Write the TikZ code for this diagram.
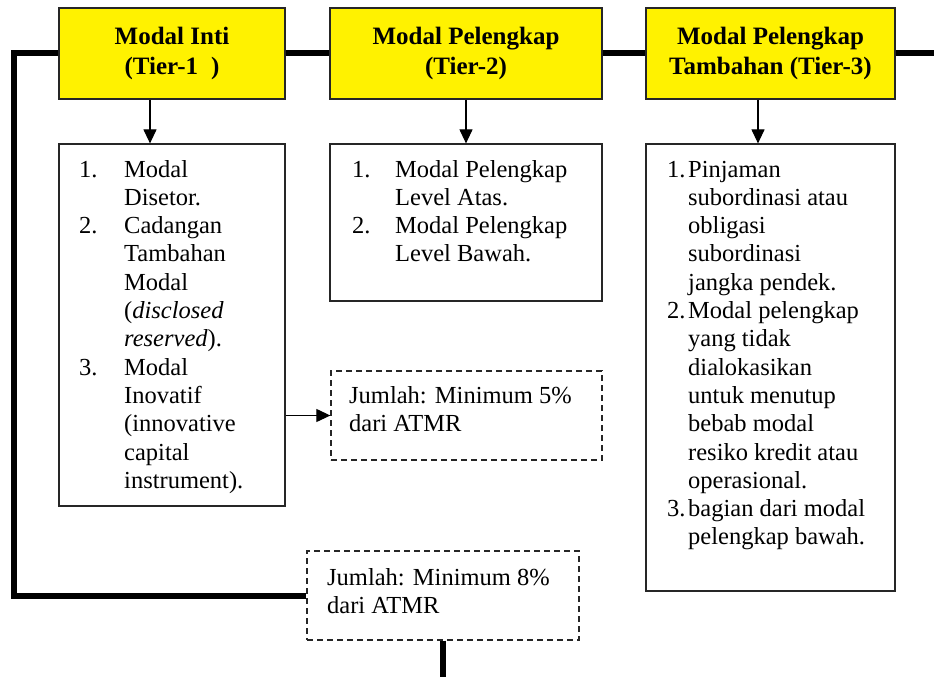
\documentclass[tikz,border=0pt]{standalone}
\usepackage{fontspec}
\setmainfont{Liberation Serif}
\usetikzlibrary{arrows.meta}
\begin{document}
\begin{tikzpicture}[x=1pt,y=-1pt,
  hdr/.style={draw=black!85,line width=1.3pt,fill=yellow,minimum height=91pt,inner sep=0pt,align=center,font=\fontsize{25}{30}\selectfont\bfseries},
  listbox/.style={draw=black!85,line width=1.2pt,inner sep=0pt},
  sumbox/.style={draw=black!85,line width=1.3pt,dash pattern=on 6pt off 4pt,inner sep=0pt},
  body/.style={inner sep=0pt,anchor=base west,font=\fontsize{24.5}{28.3}\selectfont},
  bus/.style={line width=6pt,line join=miter,line cap=butt},
  arr/.style={line width=1.1pt,-{Triangle[length=14pt,width=13pt]}}]
\useasboundingbox (0,0) rectangle (934,677);

% header boxes
\node[hdr,minimum width=226pt] (t1) at (172,53.5) {Modal Inti\\(Tier-1\hspace{13pt})};
\node[hdr,minimum width=272pt] (t2) at (466,53.5) {Modal Pelengkap\\(Tier-2)};
\node[hdr,minimum width=249pt] (t3) at (770.5,53.5) {Modal Pelengkap\\Tambahan (Tier-3)};

% list boxes
\node[listbox,minimum width=226pt,minimum height=362pt] (l1) at (172,325) {};
\node[listbox,minimum width=272pt,minimum height=157pt] (l2) at (466,222.5) {};
\node[listbox,minimum width=249pt,minimum height=447pt] (l3) at (770.5,367.5) {};

% sum boxes
\node[sumbox,minimum width=271pt,minimum height=89pt] (s5) at (466.5,415.5) {};
\node[sumbox,minimum width=272pt,minimum height=89pt] (s8) at (443,595.5) {};

% texts
\node[body] (l1t) at (79,177) {\begin{tabular}[t]{@{}p{45pt}@{}l@{}}
1. & Modal\\
   & Disetor.\\
2. & Cadangan\\
   & Tambahan\\
   & Modal\\
   & (\textit{disclosed}\\
   & \textit{reserved}).\\
3. & Modal\\
   & Inovatif\\
   & (innovative\\
   & capital\\
   & instrument).
\end{tabular}};
\node[body] (l2t) at (352,177) {\begin{tabular}[t]{@{}p{43pt}@{}l@{}}
1. & Modal Pelengkap\\
   & Level Atas.\\
2. & Modal Pelengkap\\
   & Level Bawah.
\end{tabular}};
\node[body] (l3t) at (667,177) {\begin{tabular}[t]{@{}p{21pt}@{}l@{}}
1. & Pinjaman\\
   & subordinasi atau\\
   & obligasi\\
   & subordinasi\\
   & jangka pendek.\\
2. & Modal pelengkap\\
   & yang tidak\\
   & dialokasikan\\
   & untuk menutup\\
   & bebab modal\\
   & resiko kredit atau\\
   & operasional.\\
3. & bagian dari modal\\
   & pelengkap bawah.
\end{tabular}};
\node[body] (s5t) at (349,403) {\begin{tabular}[t]{@{}l@{}}
Jumlah: Minimum 5\%\\
dari ATMR
\end{tabular}};
\node[body] (s8t) at (327,585) {\begin{tabular}[t]{@{}l@{}}
Jumlah: Minimum 8\%\\
dari ATMR
\end{tabular}};

% thick bus
\coordinate (busend) at (934,53.5);
\coordinate (lc1) at (14,53.5);
\coordinate (lc2) at (14,595.5);
\coordinate (busbottom) at (443,677);
\draw[bus] (t3.east) -- (busend);
\draw[bus] (t2.east) -- (t3.west);
\draw[bus] (t1.east) -- (t2.west);
\draw[bus] (t1.west) -- (lc1) -- (lc2) -- (s8.west);
\draw[bus] (s8.south) -- (busbottom);

% arrows
\draw[arr] ([xshift=-22pt]t1.south) -- ([xshift=-22pt]l1.north);
\draw[arr] (t2.south) -- (l2.north);
\draw[arr] ([xshift=-12.5pt]t3.south) -- ([xshift=-12.5pt]l3.north);
\draw[arr] (s5.west -| l1.east) -- (s5.west);
\end{tikzpicture}
\end{document}
